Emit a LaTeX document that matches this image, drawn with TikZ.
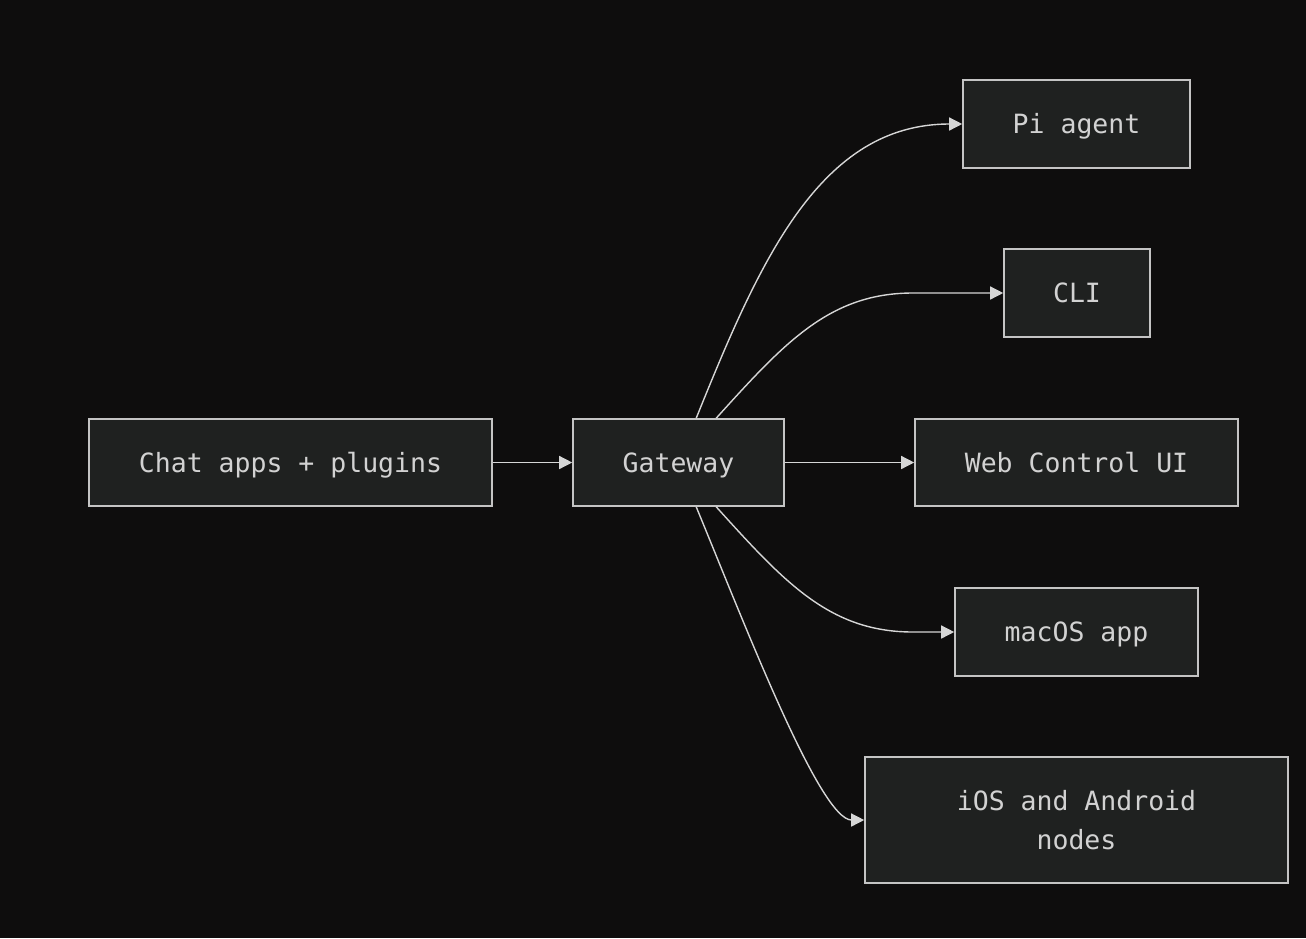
\documentclass[tikz,border=0pt]{standalone}
\usepackage{fontspec}
\setmonofont{DejaVu Sans Mono}
\usetikzlibrary{arrows.meta}
\definecolor{bgc}{HTML}{0E0D0D}
\definecolor{boxfill}{HTML}{1F2120}
\definecolor{boxline}{HTML}{C4C4C4}
\definecolor{txt}{HTML}{D2D2D2}
\definecolor{edgec}{HTML}{D6D6D6}
\tikzset{
  box/.style={draw=boxline, line width=1.6pt, fill=boxfill, text=txt,
    inner sep=0pt, align=center,
    font=\ttfamily\fontsize{26.5}{39}\selectfont},
  oneline/.style={text height=26pt, text depth=6.7pt},
  edge/.style={draw=edgec, line width=1.4pt,
    -{Triangle[length=13pt,width=13pt]}}
}
\begin{document}
\begin{tikzpicture}[x=1pt,y=-1pt]
\fill[bgc] (0,0) rectangle (1306,938);
\useasboundingbox (0,0) rectangle (1306,938);

\node[box, oneline, minimum width=403pt, minimum height=87pt] (chat) at (290.5,462.5) {Chat apps + plugins};
\node[box, oneline, minimum width=211pt, minimum height=87pt] (gw) at (678.5,462.5) {Gateway};
\node[box, oneline, minimum width=227pt, minimum height=88pt] (pi) at (1076.5,124) {Pi agent};
\node[box, oneline, minimum width=146pt, minimum height=88pt] (cli) at (1077,293) {CLI};
\node[box, oneline, minimum width=323pt, minimum height=87pt] (web) at (1076.5,462.5) {Web Control UI};
\node[box, oneline, minimum width=243pt, minimum height=88pt] (mac) at (1076.5,632) {macOS app};
\node[box, minimum width=423pt, minimum height=126pt] (ios) at (1076.5,820) {iOS and Android\\nodes};

\coordinate (gwtl) at ([xshift=124pt]gw.north west);
\coordinate (gwtr) at ([xshift=144pt]gw.north west);
\coordinate (gwbl) at ([xshift=124pt]gw.south west);
\coordinate (gwbr) at ([xshift=144pt]gw.south west);

\draw[edge] (chat.east) -- (gw.west);
\draw[edge] (gw.east) -- (web.west);
\draw[edge] (gwtl) .. controls (760,260) and (820,124) .. (pi.west);
\draw[edge] (gwtr) .. controls (785,342) and (830,293) .. (913,293) -- (cli.west);
\draw[edge] (gwbr) .. controls (785,583) and (830,632) .. (913,632) -- (mac.west);
\draw[edge] (gwbl) .. controls (745,625) and (820,820) .. (ios.west);
\end{tikzpicture}
\end{document}
